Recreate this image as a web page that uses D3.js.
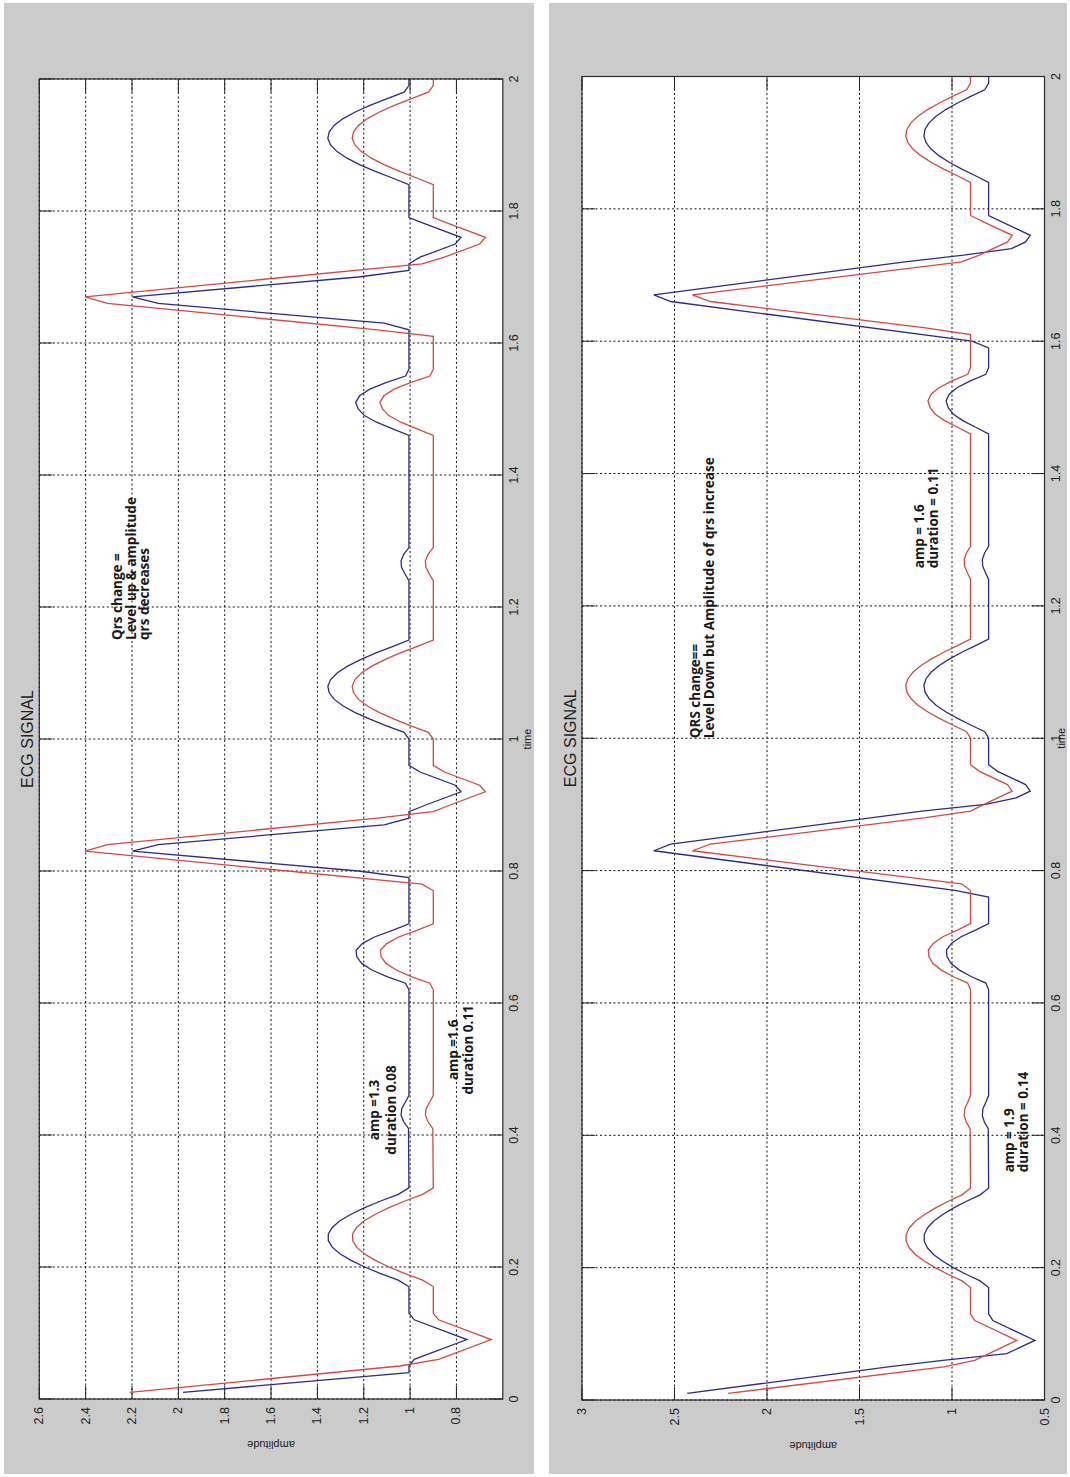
<!DOCTYPE html>
<html><head><meta charset="utf-8">
<script src="https://cdn.jsdelivr.net/npm/d3@7"></script>
<style>
body{margin:0;background:#fff;}
svg{display:block;}
</style></head>
<body><svg id="fig" width="1070" height="1477"></svg>
<script>
// Axis ticks
const timeTicks = [0, 0.2, 0.4, 0.6, 0.8, 1, 1.2, 1.4, 1.6, 1.8, 2];
const ampTicksA = [0.8, 1, 1.2, 1.4, 1.6, 1.8, 2, 2.2, 2.4, 2.6];
const ampTicksB = [0.5, 1, 1.5, 2, 2.5, 3];

// ECG traces as [time (s), amplitude] samples
const blueA = [
[0.01,1.98],[0.04,1.005],[0.05,1.005],[0.06,0.982],[0.09,0.755],[0.12,0.982],[0.13,1.005],
[0.17,1.005],[0.18,1.051],[0.19,1.127],[0.20,1.196],[0.21,1.255],[0.22,1.303],[0.23,1.336],[0.24,1.353],[0.25,1.353],[0.26,1.336],[0.27,1.303],[0.28,1.255],[0.29,1.196],[0.30,1.127],[0.31,1.051],[0.32,1.005],
[0.41,1.007],[0.42,1.028],[0.43,1.039],[0.44,1.036],[0.45,1.02],[0.46,1.005],
[0.62,1.005],[0.63,1.02],[0.64,1.1],[0.65,1.165],[0.66,1.209],[0.67,1.23],[0.68,1.233],[0.69,1.206],[0.70,1.154],[0.71,1.076],[0.72,1.005],
[0.79,1.005],[0.80,1.223],[0.83,2.198],[0.84,2.087],[0.87,1.112],[0.88,1.005],[0.89,1.005],[0.90,0.932],[0.92,0.78],[0.93,0.805],[0.95,0.957],[0.96,1.005],
[1.00,1.005],[1.01,1.026],[1.02,1.102],[1.03,1.173],[1.04,1.237],[1.05,1.289],[1.06,1.327],[1.07,1.349],[1.08,1.355],[1.09,1.343],[1.10,1.315],[1.11,1.272],[1.12,1.216],[1.13,1.15],[1.14,1.076],[1.15,1.005],
[1.24,1.005],[1.25,1.022],[1.26,1.037],[1.27,1.039],[1.28,1.027],[1.29,1.005],
[1.46,1.005],[1.47,1.075],[1.48,1.145],[1.49,1.197],[1.50,1.224],[1.51,1.235],[1.52,1.218],[1.53,1.174],[1.54,1.104],[1.55,1.02],[1.56,1.005],
[1.62,1.005],[1.63,1.112],[1.66,2.087],[1.67,2.198],[1.70,1.223],[1.71,1.005],[1.72,1.005],[1.73,0.957],[1.75,0.805],[1.76,0.78],[1.78,0.932],[1.79,1.005],
[1.84,1.005],[1.85,1.076],[1.86,1.15],[1.87,1.216],[1.88,1.272],[1.89,1.315],[1.90,1.343],[1.91,1.355],[1.92,1.349],[1.93,1.327],[1.94,1.289],[1.95,1.237],[1.96,1.173],[1.97,1.102],[1.98,1.026],[1.99,1.005],[2.00,1.005]
];
const redA = [
[0.01,2.21],[0.05,1.045],[0.06,0.877],[0.09,0.65],[0.12,0.877],[0.13,0.9],
[0.17,0.9],[0.18,0.946],[0.19,1.022],[0.20,1.091],[0.21,1.15],[0.22,1.198],[0.23,1.231],[0.24,1.248],[0.25,1.248],[0.26,1.231],[0.27,1.198],[0.28,1.15],[0.29,1.091],[0.30,1.022],[0.31,0.946],[0.32,0.9],
[0.41,0.902],[0.42,0.923],[0.43,0.934],[0.44,0.931],[0.45,0.915],[0.46,0.9],
[0.62,0.9],[0.63,0.915],[0.64,0.995],[0.65,1.06],[0.66,1.104],[0.67,1.125],[0.68,1.128],[0.69,1.101],[0.70,1.049],[0.71,0.971],[0.72,0.9],
[0.77,0.9],[0.78,0.948],[0.83,2.403],[0.84,2.306],[0.88,1.142],[0.89,0.9],[0.90,0.827],[0.92,0.675],[0.93,0.70],[0.95,0.852],[0.96,0.9],
[1.00,0.9],[1.01,0.921],[1.02,0.997],[1.03,1.068],[1.04,1.132],[1.05,1.184],[1.06,1.222],[1.07,1.244],[1.08,1.25],[1.09,1.238],[1.10,1.21],[1.11,1.167],[1.12,1.111],[1.13,1.045],[1.14,0.971],[1.15,0.9],
[1.24,0.9],[1.25,0.917],[1.26,0.932],[1.27,0.934],[1.28,0.922],[1.29,0.9],
[1.46,0.9],[1.47,0.97],[1.48,1.04],[1.49,1.092],[1.50,1.119],[1.51,1.13],[1.52,1.113],[1.53,1.069],[1.54,0.999],[1.55,0.915],[1.56,0.9],
[1.61,0.9],[1.62,1.142],[1.66,2.306],[1.67,2.403],[1.72,0.948],[1.73,0.852],[1.75,0.70],[1.76,0.675],[1.78,0.827],[1.79,0.9],
[1.84,0.9],[1.85,0.971],[1.86,1.045],[1.87,1.111],[1.88,1.167],[1.89,1.21],[1.90,1.238],[1.91,1.25],[1.92,1.244],[1.93,1.222],[1.94,1.184],[1.95,1.132],[1.96,1.068],[1.97,0.997],[1.98,0.921],[1.99,0.9],[2.00,0.9]
];
const blueB = [
[0.01,2.431],[0.05,1.345],[0.06,1.05],[0.07,0.704],[0.09,0.552],[0.12,0.779],[0.13,0.802],
[0.17,0.802],[0.18,0.848],[0.19,0.924],[0.20,0.993],[0.21,1.052],[0.22,1.10],[0.23,1.133],[0.24,1.15],[0.25,1.15],[0.26,1.133],[0.27,1.10],[0.28,1.052],[0.29,0.993],[0.30,0.924],[0.31,0.848],[0.32,0.802],
[0.41,0.804],[0.42,0.825],[0.43,0.836],[0.44,0.833],[0.45,0.817],[0.46,0.802],
[0.62,0.802],[0.63,0.817],[0.64,0.897],[0.65,0.962],[0.66,1.006],[0.67,1.027],[0.68,1.03],[0.69,1.003],[0.70,0.951],[0.71,0.873],[0.72,0.802],
[0.76,0.802],[0.77,0.984],[0.83,2.612],[0.84,2.52],[0.89,1.163],[0.90,0.819],[0.91,0.653],[0.92,0.577],[0.93,0.602],[0.95,0.754],[0.96,0.802],
[1.00,0.802],[1.01,0.823],[1.02,0.899],[1.03,0.97],[1.04,1.034],[1.05,1.086],[1.06,1.124],[1.07,1.146],[1.08,1.152],[1.09,1.14],[1.10,1.112],[1.11,1.069],[1.12,1.013],[1.13,0.947],[1.14,0.873],[1.15,0.802],
[1.24,0.802],[1.25,0.819],[1.26,0.834],[1.27,0.836],[1.28,0.824],[1.29,0.802],
[1.46,0.802],[1.47,0.872],[1.48,0.942],[1.49,0.994],[1.50,1.021],[1.51,1.032],[1.52,1.015],[1.53,0.971],[1.54,0.901],[1.55,0.817],[1.56,0.802],
[1.59,0.802],[1.60,0.892],[1.66,2.52],[1.67,2.612],[1.72,1.255],[1.73,0.936],[1.74,0.678],[1.75,0.602],[1.76,0.577],[1.79,0.802],
[1.84,0.802],[1.85,0.873],[1.86,0.947],[1.87,1.013],[1.88,1.069],[1.89,1.112],[1.90,1.14],[1.91,1.152],[1.92,1.146],[1.93,1.124],[1.94,1.086],[1.95,1.034],[1.96,0.97],[1.97,0.899],[1.98,0.823],[1.99,0.802],[2.00,0.802]
];
const redB = redA.map(d => d.slice());

// Text notes: anchor time, anchor amplitude (first baseline), alignment, lines
const notesA = [
  {t: 1.15, a: 2.242, anchor: "start", gap: 13.5, lines: ["Qrs change =", "Level up & amplitude", "qrs decreases"]},
  {t: 0.438, a: 1.135, anchor: "middle", gap: 17, lines: ["amp =1.3", "duration 0.08"]},
  {t: 0.529, a: 0.795, anchor: "middle", gap: 15, lines: ["amp =1.6", "duration 0.11"]}
];
const notesB = [
  {t: 1.0, a: 2.362, anchor: "start", gap: 13.5, lines: ["QRS change==", "Level Down but Amplitude of qrs increase"]},
  {t: 1.257, a: 1.151, anchor: "start", gap: 14, lines: ["amp = 1.6", "duration = 0.11"]},
  {t: 0.344, a: 0.665, anchor: "start", gap: 14, lines: ["amp = 1.9", "duration = 0.14"]}
];

const panels = [
  {gray: [4, 3, 530, 1471], x0: 39.3, x1: 502.8, yTop: 79, yBot: 1399, amp: [0.6, 2.6],
   ampTicks: ampTicksA, blue: blueA, red: redA, notes: notesA, timeGap: 24},
  {gray: [549, 3, 518, 1471], x0: 582, x1: 1044.5, yTop: 76.5, yBot: 1400, amp: [0.5, 3],
   ampTicks: ampTicksB, blue: blueB, red: redB, notes: notesB, timeGap: 16}
];

const svg = d3.select("#fig");
const fmt = d3.format("~g");
const axisFont = "'Liberation Sans', Arial, sans-serif";
const noteFont = "'Open Sans', Lato, sans-serif";

panels.forEach(p => {
  svg.append("rect")
    .attr("x", p.gray[0]).attr("y", p.gray[1])
    .attr("width", p.gray[2]).attr("height", p.gray[3])
    .attr("fill", "#cbcbcb");

  const W = p.yBot - p.yTop;   // time extent
  const H = p.x1 - p.x0;       // amplitude extent
  // axes are laid out in the usual orientation, then turned a quarter turn
  const g = svg.append("g").attr("transform", `translate(${p.x0},${p.yBot}) rotate(-90)`);

  const x = d3.scaleLinear().domain([0, 2]).range([0, W]);
  const y = d3.scaleLinear().domain(p.amp).range([H, 0]);

  g.append("rect").attr("width", W).attr("height", H).attr("fill", "#fff");

  // dotted grid
  const grid = g.append("g").attr("stroke", "#111").attr("stroke-width", 1)
    .attr("stroke-dasharray", "2,2.5");
  timeTicks.forEach(t => {
    grid.append("line").attr("x1", x(t)).attr("x2", x(t)).attr("y1", 0).attr("y2", H);
  });
  p.ampTicks.forEach(a => {
    grid.append("line").attr("x1", 0).attr("x2", W).attr("y1", y(a)).attr("y2", y(a));
  });

  // tick marks on all four sides
  const tk = g.append("g").attr("stroke", "#222").attr("stroke-width", 1);
  const tl = 13;
  timeTicks.forEach(t => {
    tk.append("line").attr("x1", x(t)).attr("x2", x(t)).attr("y1", 0).attr("y2", tl);
    tk.append("line").attr("x1", x(t)).attr("x2", x(t)).attr("y1", H - tl).attr("y2", H);
  });
  p.ampTicks.forEach(a => {
    tk.append("line").attr("x1", 0).attr("x2", tl).attr("y1", y(a)).attr("y2", y(a));
    tk.append("line").attr("x1", W - tl).attr("x2", W).attr("y1", y(a)).attr("y2", y(a));
  });

  // traces
  const line = d3.line().x(d => x(d[0])).y(d => y(d[1]));
  g.append("path").datum(p.blue).attr("d", line)
    .attr("fill", "none").attr("stroke", "#2b2b8a").attr("stroke-width", 1.3);
  g.append("path").datum(p.red).attr("d", line)
    .attr("fill", "none").attr("stroke", "#cf4a46").attr("stroke-width", 1.3);

  // box
  g.append("rect").attr("width", W).attr("height", H)
    .attr("fill", "none").attr("stroke", "#2a2a2a").attr("stroke-width", 1.2);

  // tick labels
  timeTicks.forEach(t => {
    g.append("text").attr("x", x(t)).attr("y", H + 11)
      .attr("text-anchor", "middle").attr("dominant-baseline", "central")
      .attr("font-family", axisFont).attr("font-size", 12.5).attr("fill", "#222")
      .text(fmt(t));
  });
  p.ampTicks.forEach(a => {
    g.append("text").attr("x", -8).attr("y", y(a))
      .attr("text-anchor", "end").attr("dominant-baseline", "central")
      .attr("font-family", axisFont).attr("font-size", 12.5).attr("fill", "#222")
      .text(fmt(a));
  });

  // axis labels and title
  g.append("text").attr("x", W / 2).attr("y", H + p.timeGap)
    .attr("text-anchor", "middle").attr("dominant-baseline", "central")
    .attr("font-family", axisFont).attr("font-size", 11).attr("fill", "#222")
    .text("time");
  g.append("text")
    .attr("transform", `translate(${-46},${H / 2}) rotate(-90)`)
    .attr("text-anchor", "middle").attr("dominant-baseline", "central")
    .attr("font-family", axisFont).attr("font-size", 11).attr("fill", "#222")
    .text("amplitude");
  g.append("text").attr("x", W / 2).attr("y", -6)
    .attr("text-anchor", "middle")
    .attr("font-family", axisFont).attr("font-size", 16).attr("fill", "#222")
    .text("ECG SIGNAL");

  // notes
  p.notes.forEach(n => {
    const tx = g.append("text")
      .attr("font-family", noteFont).attr("font-weight", 700).attr("font-size", 13.5)
      .attr("fill", "#1a1a1a").attr("text-anchor", n.anchor);
    n.lines.forEach((s, i) => {
      tx.append("tspan").attr("x", x(n.t)).attr("y", y(n.a) + i * n.gap).text(s);
    });
  });
});
</script>
</body></html>
